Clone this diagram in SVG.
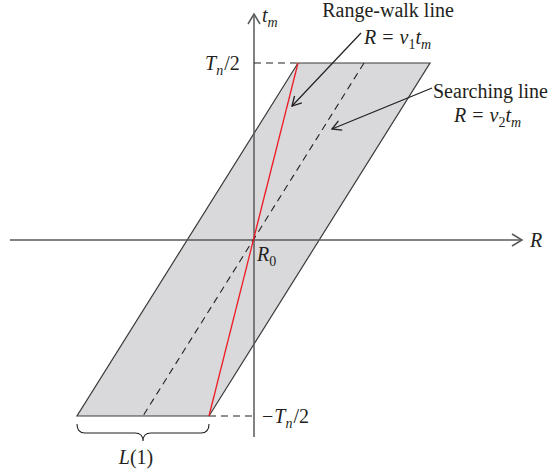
<svg xmlns="http://www.w3.org/2000/svg" width="553" height="473" viewBox="0 0 553 473">
<style>
text{font-family:"Liberation Serif",serif;font-size:20px;fill:#231f20}
.it{font-style:italic}
.sub{font-size:14px}
.axis{stroke:#58595b;stroke-width:1.5;fill:none}
.dash{stroke:#231f20;stroke-width:1.1;stroke-dasharray:7,5;fill:none}
</style>
<defs>
<marker id="open" markerWidth="12" markerHeight="12" refX="10" refY="6" orient="auto" markerUnits="userSpaceOnUse">
<path d="M1,1 L10,6 L1,11" fill="none" stroke="#231f20" stroke-width="1.3"/>
</marker>
<marker id="axh" markerWidth="14" markerHeight="14" refX="11" refY="7" orient="auto" markerUnits="userSpaceOnUse">
<path d="M1,1 L11,7 L1,13" fill="none" stroke="#58595b" stroke-width="1.5"/>
</marker>
</defs>
<g id="region">
<polygon points="298,63 430,63 209,416 77,416" fill="#d9d9db" stroke="#3a3a3a" stroke-width="1.2"/>
</g>
<g id="axes">
<line class="axis" x1="10" y1="240" x2="522" y2="240" marker-end="url(#axh)"/>
<line class="axis" x1="254" y1="437" x2="254" y2="14" marker-end="url(#axh)"/>
</g>
<g id="connectors">
<line class="dash" x1="254" y1="63" x2="298" y2="63"/>
<line class="dash" x1="209" y1="416" x2="254" y2="416"/>
<line class="dash" x1="364" y1="63" x2="143" y2="416"/>
<line x1="298" y1="63" x2="209" y2="416" stroke="#ed1c24" stroke-width="1.3"/>
<line x1="361" y1="33" x2="292" y2="106" stroke="#231f20" stroke-width="1.2" marker-end="url(#open)"/>
<line x1="432" y1="88" x2="332" y2="129" stroke="#231f20" stroke-width="1.2" marker-end="url(#open)"/>
<path d="M77,424 Q77,433 85,433 L135,433 Q143,433 143,441 Q143,433 151,433 L201,433 Q209,433 209,424" fill="none" stroke="#231f20" stroke-width="1.1"/>
</g>
<g id="labels">
<text class="it" x="262" y="22">t<tspan class="sub" dy="5">m</tspan></text>
<text x="530" y="247" class="it">R</text>
<text x="257" y="261" class="it">R<tspan class="sub" font-style="normal" dy="5">0</tspan></text>
<text x="205" y="70"><tspan class="it">T</tspan><tspan class="it sub" dy="5">n</tspan><tspan dx="1" dy="-5">/2</tspan></text>
<text x="262" y="423">−<tspan class="it" dx="1">T</tspan><tspan class="it sub" dy="5">n</tspan><tspan dx="1" dy="-5">/2</tspan></text>
<text x="136" y="464" text-anchor="middle"><tspan class="it">L</tspan>(1)</text>
<text x="388" y="17" text-anchor="middle">Range-walk line</text>
<text x="364" y="44"><tspan class="it">R</tspan><tspan dx="6">=</tspan><tspan class="it" dx="6">v</tspan><tspan class="sub" dy="5">1</tspan><tspan class="it" dy="-5">t</tspan><tspan class="it sub" dy="5">m</tspan></text>
<text x="454" y="122"><tspan class="it">R</tspan><tspan dx="6">=</tspan><tspan class="it" dx="6">v</tspan><tspan class="sub" dy="5">2</tspan><tspan class="it" dy="-5">t</tspan><tspan class="it sub" dy="5">m</tspan></text>
<text x="433" y="98">Searching line</text>
</g>
</svg>
